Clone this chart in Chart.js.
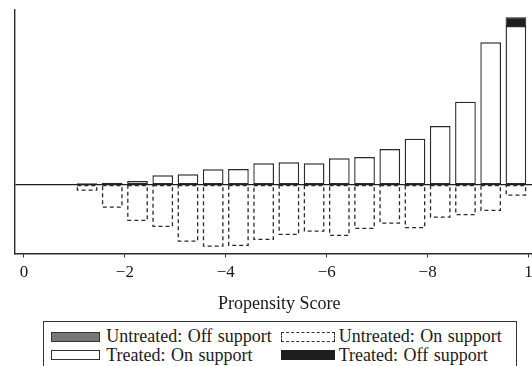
<!DOCTYPE html>
<html>
<head>
<meta charset="utf-8">
<script src="https://cdn.jsdelivr.net/npm/chart.js@4"></script>
<style>
  html, body { margin: 0; padding: 0; background: #fff; overflow: hidden; }
  #wrap { position: relative; width: 532px; height: 366px; overflow: hidden; }
  #legend {
    position: absolute; left: 43px; top: 321px; width: 474px; height: 60px;
    border: 1.3px solid #333; box-sizing: border-box; background: #fff;
    font-family: "Liberation Serif", "DejaVu Serif", serif; font-size: 18px; color: #1a1a1a;
    word-spacing: 1px;
  }
  .item { position: absolute; display: flex; align-items: center; white-space: nowrap; height: 18px; }
  .sw { display: inline-block; height: 10px; box-sizing: border-box; }
</style>
</head>
<body>
<div id="wrap">
  <canvas id="c" width="544" height="366"></canvas>
  <div id="legend"></div>
</div>
<script>
// bin midpoints (width 0.05)
const bins = [0.125, 0.175, 0.225, 0.275, 0.325, 0.375, 0.425, 0.475, 0.525,
              0.575, 0.625, 0.675, 0.725, 0.775, 0.825, 0.875, 0.925, 0.975];
const treatedOn = [1.7, 2.3, 4, 9.7, 10.7, 15.7, 16, 21.7, 22.7,
                   21.7, 26.7, 28, 36, 46.3, 59, 83.3, 142.7, 159];
const treatedOff = [0, 0, 0, 0, 0, 0, 0, 0, 0, 0, 0, 0, 0, 0, 0, 0, 0, 8.7];
const untreatedOff = [0, 0, 0, 0, 0, 0, 0, 0, 0, 0, 0, 0, 0, 0, 0, 0, 0, 0];
const untreatedOn = [-5.7, -22.7, -36, -42, -56.7, -61.7, -61, -55, -50,
                     -46.7, -51, -44, -38.7, -43.3, -32.7, -30.3, -26, -10.7];
const tickValues = [0, 0.2, 0.4, 0.6, 0.8, 1];
const tickLabels = ['0', '−2', '−4', '−6', '−8', '1'];
const legendLabels = ['Untreated: Off support', 'Untreated: On support',
                      'Treated: On support', 'Treated: Off support'];

const serif = '"Liberation Serif", "DejaVu Serif", serif';
const pts = (arr) => arr.map((v, i) => ({ x: bins[i], y: v }));

// Chart.js bars have no dashed borders, so stroke them from the bar elements
const dashedBars = {
  id: 'dashedBars',
  afterDatasetsDraw(chart) {
    const ctx = chart.ctx;
    chart.data.datasets.forEach((ds, i) => {
      if (!ds.dashed) return;
      const meta = chart.getDatasetMeta(i);
      ctx.save();
      ctx.setLineDash([4, 3]);
      ctx.lineWidth = 1.3;
      ctx.strokeStyle = '#2a2a2a';
      meta.data.forEach(el => {
        const p = el.getProps(['x', 'y', 'base', 'width'], true);
        const l = p.x - p.width / 2 + 0.65;
        const r = p.x + p.width / 2 - 0.65;
        const t = Math.min(p.y, p.base);
        const b = Math.max(p.y, p.base) - 0.65;
        ctx.strokeRect(l, t, r - l, b - t);
      });
      ctx.restore();
    });
  }
};

new Chart(document.getElementById('c'), {
  type: 'bar',
  data: {
    datasets: [
      { label: legendLabels[2], data: pts(treatedOn), stack: 'ps',
        backgroundColor: '#fff', borderColor: '#2a2a2a', borderWidth: 1.4, borderSkipped: false },
      { label: legendLabels[3], data: pts(treatedOff), stack: 'ps',
        backgroundColor: '#1e1e1e', borderColor: '#1e1e1e', borderWidth: 1, borderSkipped: false },
      { label: legendLabels[0], data: pts(untreatedOff), stack: 'ps',
        backgroundColor: '#777', borderColor: '#333', borderWidth: 0 },
      { label: legendLabels[1], data: pts(untreatedOn), stack: 'ps', dashed: true,
        backgroundColor: 'rgba(0,0,0,0)', borderWidth: 0 }
    ]
  },
  options: {
    responsive: false,
    animation: false,
    categoryPercentage: 1,
    barPercentage: 0.82,
    layout: { padding: { left: 14.7, top: 10, right: 0, bottom: 51 } },
    plugins: { legend: { display: false }, tooltip: { enabled: false } },
    scales: {
      x: {
        type: 'linear',
        min: -0.0184,
        max: 1.0307,
        offset: false,
        grid: { display: true, offset: false, drawOnChartArea: false, drawTicks: true,
                tickLength: 4, color: '#333' },
        border: { display: true, color: '#2a2a2a', width: 1.4 },
        afterBuildTicks: s => { s.ticks = tickValues.map(v => ({ value: v })); },
        ticks: {
          callback: (v, i) => tickLabels[i],
          font: { family: serif, size: 17 },
          color: '#1a1a1a', padding: 5, maxRotation: 0, autoSkip: false
        },
        title: { display: true, text: 'Propensity Score', color: '#1a1a1a',
                 font: { family: serif, size: 18 }, padding: 0 },
        afterFit: s => { s.height = 61.5; }
      },
      y: {
        stacked: true,
        min: -68.5,
        max: 175,
        ticks: { display: false, stepSize: 25 },
        grid: {
          drawTicks: false,
          lineWidth: 1.2,
          color: c => (c.tick && c.tick.value === 0) ? '#1e1e1e' : 'rgba(0,0,0,0)'
        },
        border: { display: true, color: '#2a2a2a', width: 1.4 }
      }
    }
  },
  plugins: [dashedBars]
});

// legend box, two columns
const legendItems = [
  { text: legendLabels[0], left: 7.2, top: 5.5, w: 49, style: 'background:#777;border:1.3px solid #333;', gap: 6 },
  { text: legendLabels[1], left: 236.7, top: 5.5, w: 54, style: 'border:1.3px dashed #333;', gap: 4 },
  { text: legendLabels[2], left: 7.2, top: 24, w: 49, style: 'background:#fff;border:1.3px solid #333;', gap: 6 },
  { text: legendLabels[3], left: 236.7, top: 24, w: 54, style: 'background:#1e1e1e;border:1px solid #1e1e1e;', gap: 4 }
];
const legend = document.getElementById('legend');
legendItems.forEach(it => {
  const d = document.createElement('div');
  d.className = 'item';
  d.style.left = it.left + 'px';
  d.style.top = it.top + 'px';
  d.innerHTML = '<span class="sw" style="width:' + it.w + 'px;margin-right:' + it.gap + 'px;' + it.style + '"></span>' +
                '<span>' + it.text + '</span>';
  legend.appendChild(d);
});
</script>
</body>
</html>
